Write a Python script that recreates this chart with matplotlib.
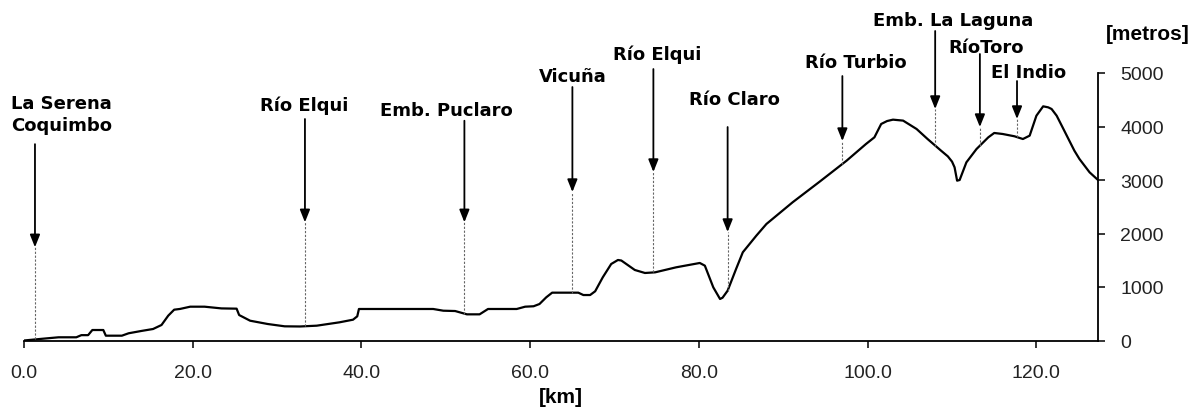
import numpy as np
import matplotlib
matplotlib.use("Agg")
import matplotlib.pyplot as plt

# perfil de elevacion: distancia [km] y altura [m]
km = [0.0, 2.0, 4.1, 6.2, 6.8, 7.6, 8.1, 9.4, 9.7, 11.6, 12.4, 13.9, 15.3, 16.3,
      17.1, 17.8, 18.5, 19.7, 21.4, 23.4, 25.2, 25.5, 26.8, 28.9, 30.9, 32.7,
      34.7, 37.4, 39.0, 39.5, 39.7, 48.5, 49.7, 51.1, 52.5, 54.0, 55.0, 58.4,
      59.4, 60.4, 61.1, 61.9, 62.6, 65.7, 66.3, 67.1, 67.7, 68.6, 69.6, 70.4,
      70.8, 72.4, 73.6, 74.8, 77.3, 80.1, 80.7, 81.7, 82.5, 82.8, 83.4, 84.4,
      85.2, 86.8, 88.0, 91.1, 94.3, 97.5, 99.8, 100.8, 101.6, 102.3, 103.0,
      104.2, 105.8, 107.1, 108.7, 109.5, 110.0, 110.3, 110.6, 110.9, 111.7,
      112.9, 114.3, 115.0, 116.0, 117.4, 118.4, 119.2, 120.0, 120.8, 121.4,
      121.8, 122.4, 123.1, 123.9, 124.5, 125.1, 126.3, 127.3]
elev = [0, 30, 60, 60, 100, 100, 196, 196, 90, 90, 135, 178, 215, 290,
        465, 576, 590, 632, 632, 600, 595, 476, 370, 308, 265, 262,
        277, 340, 389, 452, 589, 589, 557, 551, 489, 489, 589, 589,
        632, 640, 682, 807, 894, 894, 850, 850, 920, 1181, 1430, 1505,
        1495, 1318, 1262, 1274, 1368, 1449, 1399, 994, 776, 800, 931, 1336,
        1649, 1959, 2178, 2583, 2968, 3361, 3673, 3798, 4047, 4102, 4128,
        4110, 3953, 3766, 3548, 3442, 3343, 3237, 2987, 3000, 3330,
        3579, 3798, 3879, 3860, 3817, 3766, 3829, 4202, 4377, 4358,
        4327, 4202, 3985, 3735, 3548, 3393, 3144, 3000]

# lugares senalados
places = ["La Serena\nCoquimbo", "Río Elqui", "Emb. Puclaro", "Vicuña", "Río Elqui",
          "Río Claro", "Río Turbio", "Emb. La Laguna", "RíoToro", "El Indio"]
place_km = [1.3, 33.3, 52.2, 65.0, 74.6, 83.4, 97.0, 108.0, 113.3, 117.7]

# layout de flechas y textos (en coordenadas de datos)
arrow_top = [3670, 4140, 4108, 4738, 5074, 3990, 4943, 5785, 5355, 4850]
arrow_tip = [1742, 2209, 2209, 2775, 3149, 2028, 3728, 4327, 3990, 4140]
label_x = [-1.5, 33.2, 50.1, 65.0, 75.1, 84.2, 98.6, 110.1, 114.0, 119.1]
label_y = [4233, 4401, 4314, 4944, 5355, 4513, 5205, 5990, 5486, 5018]

fig = plt.figure(figsize=(11.89, 4.14), dpi=100)
ax = fig.add_axes([24 / 1189, 72.5 / 414, 1074 / 1189, 267.5 / 414])

ax.plot(km, elev, color="black", lw=1.6, solid_joinstyle="round")

for i in range(len(places)):
    x = place_km[i]
    ground = np.interp(x, km, elev)
    # linea punteada desde la flecha hasta el perfil
    ax.plot([x, x], [ground, arrow_tip[i]], color="#666666", lw=0.8,
            ls=(0, (2, 1.5)), clip_on=False)
    ax.annotate("", xy=(x, arrow_tip[i]), xytext=(x, arrow_top[i]),
                arrowprops=dict(arrowstyle="-|>,head_length=0.75,head_width=0.3",
                                color="black", lw=1.3, shrinkA=0, shrinkB=0),
                annotation_clip=False)
    ha = "left" if i == 0 else "center"
    ax.text(label_x[i], label_y[i], places[i], ha=ha, va="center",
            fontsize=13, fontweight="bold", family="DejaVu Sans",
            linespacing=1.3, clip_on=False)

ax.set_xlim(0, 127.3)
ax.set_ylim(0, 5000)
ax.set_xticks([0, 20, 40, 60, 80, 100, 120])
ax.set_xticklabels(["%.1f" % v for v in [0, 20, 40, 60, 80, 100, 120]])
ax.set_yticks([0, 1000, 2000, 3000, 4000, 5000])

ax.spines["left"].set_visible(False)
ax.spines["top"].set_visible(False)
ax.spines["bottom"].set_linewidth(1.3)
ax.spines["right"].set_linewidth(1.3)
ax.yaxis.tick_right()
ax.tick_params(axis="both", direction="out", length=5, width=1.1,
               labelsize=14, colors="black")
ax.tick_params(axis="x", pad=12)
ax.tick_params(axis="y", pad=11)
for lab in ax.get_xticklabels() + ax.get_yticklabels():
    lab.set_family("Liberation Sans")
    lab.set_color("#222222")

ax.set_xlabel("[km]", fontsize=15, fontweight="bold", family="Liberation Sans",
              labelpad=4)
ax.text(133.2, 5729, "[metros]", ha="center", va="center", fontsize=15,
        fontweight="bold", family="Liberation Sans", clip_on=False)

fig.savefig("out.png", dpi=100)
